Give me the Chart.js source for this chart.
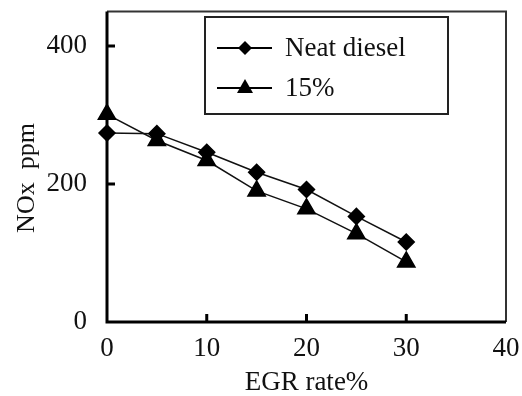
<!DOCTYPE html>
<html>
<head>
<meta charset="utf-8">
<script src="https://cdn.jsdelivr.net/npm/chart.js@4"></script>
<style>
  body { margin: 0; background: #fff; }
</style>
</head>
<body>
<canvas id="nox" width="522" height="396"></canvas>
<script>
const egrRate = [0, 5, 10, 15, 20, 25, 30];
const neatDiesel = [274, 273, 246, 217, 192, 153, 116];
const blend15 = [301, 263, 234, 190, 164, 128, 87];
const xTicks = [0, 10, 20, 30, 40];
const yTicks = [0, 200, 400];

const serif = 'Liberation Serif';
const fontSize = 27;

const toPoints = (xs, ys) => xs.map((x, i) => ({ x: x, y: ys[i] }));

// frame, inner ticks, y title and legend box
const framePlugin = {
  id: 'frame',
  afterDraw(chart) {
    const ctx = chart.ctx;
    const a = chart.chartArea;
    const xs = chart.scales.x, ys = chart.scales.y;
    ctx.save();
    ctx.strokeStyle = '#333';
    ctx.lineWidth = 2;
    ctx.beginPath();
    ctx.moveTo(a.left, a.top);
    ctx.lineTo(a.right, a.top);
    ctx.lineTo(a.right, a.bottom);
    ctx.stroke();

    ctx.strokeStyle = '#000';
    ctx.lineWidth = 3;
    ctx.beginPath();
    ctx.moveTo(a.left, a.top);
    ctx.lineTo(a.left, a.bottom);
    ctx.lineTo(a.right, a.bottom);
    ctx.stroke();

    ctx.beginPath();
    yTicks.slice(1).forEach(v => {
      const py = ys.getPixelForValue(v);
      ctx.moveTo(a.left, py);
      ctx.lineTo(a.left + 8, py);
    });
    xTicks.slice(1, -1).forEach(v => {
      const px = xs.getPixelForValue(v);
      ctx.moveTo(px, a.bottom);
      ctx.lineTo(px, a.bottom - 8);
    });
    ctx.stroke();

    // y axis title
    ctx.fillStyle = '#111';
    ctx.font = '26px "' + serif + '"';
    ctx.textAlign = 'center';
    ctx.textBaseline = 'middle';
    ctx.translate(27, 178);
    ctx.rotate(-Math.PI / 2);
    ctx.fillText('NOx  ppm', 0, 0);
    ctx.restore();

    // legend
    ctx.save();
    ctx.strokeStyle = '#222';
    ctx.lineWidth = 2;
    ctx.strokeRect(205, 17, 243, 97);
    ctx.font = fontSize + 'px "' + serif + '"';
    ctx.fillStyle = '#111';
    ctx.textBaseline = 'middle';
    ctx.textAlign = 'left';
    const rows = [48, 88];
    chart.data.datasets.forEach((ds, i) => {
      const y = rows[i];
      ctx.strokeStyle = '#000';
      ctx.lineWidth = 2;
      ctx.beginPath();
      ctx.moveTo(217, y);
      ctx.lineTo(272, y);
      ctx.stroke();
      ctx.beginPath();
      if (ds.pointStyle === 'rectRot') {
        ctx.moveTo(245, y - 7);
        ctx.lineTo(252, y);
        ctx.lineTo(245, y + 7);
        ctx.lineTo(238, y);
      } else {
        ctx.moveTo(245, y - 9);
        ctx.lineTo(253, y + 5);
        ctx.lineTo(237, y + 5);
      }
      ctx.closePath();
      ctx.fillStyle = '#000';
      ctx.fill();
      ctx.fillStyle = '#111';
      ctx.fillText(ds.label, 285, y + 1);
    });
    ctx.restore();
  }
};

new Chart(document.getElementById('nox'), {
  type: 'scatter',
  data: {
    datasets: [{
      label: 'Neat diesel',
      data: toPoints(egrRate, neatDiesel),
      showLine: true,
      borderColor: '#111',
      borderWidth: 1.5,
      backgroundColor: '#000',
      pointBackgroundColor: '#000',
      pointBorderColor: '#000',
      pointStyle: 'rectRot',
      pointRadius: 8,
      clip: false
    }, {
      label: '15%',
      data: toPoints(egrRate, blend15),
      showLine: true,
      borderColor: '#111',
      borderWidth: 1.5,
      backgroundColor: '#000',
      pointBackgroundColor: '#000',
      pointBorderColor: '#000',
      pointStyle: 'triangle',
      pointRadius: 10,
      clip: false
    }]
  },
  options: {
    responsive: false,
    animation: false,
    layout: { padding: { top: 10, right: 16, left: 0, bottom: 0 } },
    plugins: {
      legend: { display: false },
      tooltip: { enabled: false }
    },
    scales: {
      x: {
        type: 'linear',
        min: 0,
        max: 40,
        afterBuildTicks: s => { s.ticks = xTicks.map(v => ({ value: v })); },
        afterFit: s => { s.height = 74; s.paddingLeft = 0; s.paddingRight = 0; },
        grid: { display: false },
        border: { display: false },
        ticks: {
          color: '#111',
          padding: 3,
          maxRotation: 0,
          font: { family: serif, size: fontSize }
        },
        title: {
          display: true,
          text: 'EGR rate%',
          color: '#111',
          font: { family: serif, size: fontSize, lineHeight: 1 },
          padding: { top: 0, bottom: 0 }
        }
      },
      y: {
        min: 0,
        max: 450,
        afterBuildTicks: s => { s.ticks = yTicks.map(v => ({ value: v })); },
        afterFit: s => { s.width = 107; s.paddingTop = 0; s.paddingBottom = 0; },
        grid: { display: false },
        border: { display: false },
        ticks: {
          color: '#111',
          padding: 12,
          font: { family: serif, size: fontSize }
        }
      }
    }
  },
  plugins: [framePlugin]
});
</script>
</body>
</html>
